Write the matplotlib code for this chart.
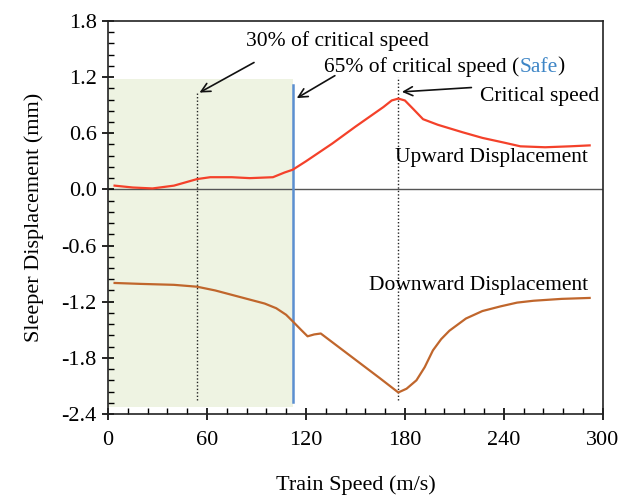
import matplotlib.pyplot as plt
from matplotlib.ticker import MultipleLocator

# upward displacement (red)
up_speed = [4, 15, 27, 40, 44, 50, 54, 62, 75, 86, 100, 107, 112, 120,
            136, 150, 167, 172, 176, 180, 185, 191, 200, 215, 227, 240,
            250, 265, 280, 292]
up_disp = [0.04, 0.02, 0.01, 0.04, 0.06, 0.09, 0.11, 0.13, 0.13, 0.12,
           0.13, 0.18, 0.21, 0.30, 0.49, 0.67, 0.88, 0.95, 0.97, 0.95,
           0.86, 0.75, 0.69, 0.61, 0.55, 0.50, 0.46, 0.45, 0.46, 0.47]

# downward displacement (brown)
down_speed = [4, 20, 40, 54, 65, 80, 95, 102, 108, 112, 117, 121, 125,
              129, 135, 150, 165, 176, 181, 187, 192, 197, 202, 207, 217,
              227, 238, 248, 258, 275, 292]
down_disp = [-1.00, -1.01, -1.02, -1.04, -1.08, -1.15, -1.22, -1.27,
             -1.34, -1.41, -1.50, -1.57, -1.55, -1.54, -1.62, -1.82,
             -2.02, -2.17, -2.13, -2.04, -1.90, -1.72, -1.60, -1.51,
             -1.38, -1.30, -1.25, -1.21, -1.19, -1.17, -1.16]

speed_30 = 54
speed_65 = 112
speed_crit = 176

plt.rcParams['font.family'] = ['Liberation Serif', 'DejaVu Serif']
plt.rcParams['font.size'] = 16

fig = plt.figure(figsize=(6.26, 4.98), dpi=100)
ax = fig.add_axes([0.1725, 0.1687, 0.7905, 0.7893])

# safe zone shading
ax.fill_between([0, speed_65], -2.33, 1.18, color='#eef3e2', lw=0, zorder=0)

ax.axhline(0, color='#555555', lw=1.0, zorder=1)

ax.plot([speed_30, speed_30], [-2.25, 1.05], color='#222222', lw=1.0,
        ls=(0, (1, 1.5)), zorder=2)
ax.plot([speed_crit, speed_crit], [-2.25, 1.20], color='#222222', lw=1.0,
        ls=(0, (1, 1.5)), zorder=2)
ax.plot([speed_65, speed_65], [-2.27, 1.12], color='#5b8fd0', lw=1.8, zorder=3)

ax.plot(up_speed, up_disp, color='#f4412a', lw=1.6, zorder=4)
ax.plot(down_speed, down_disp, color='#c0662c', lw=1.6, zorder=4)

fs = 15.5
arrow = dict(arrowstyle='->', color='#111111', lw=1.2)
ax.annotate('', xy=(speed_30, 1.02), xytext=(90, 1.37), arrowprops=arrow)
ax.text(139, 1.585, '30% of critical speed', ha='center', va='center',
        fontsize=fs)

ax.annotate('', xy=(speed_65 + 1, 0.96), xytext=(139, 1.23), arrowprops=arrow)
t1 = ax.text(131, 1.255, '65% of critical speed (', ha='left',
             va='baseline', fontsize=fs)
t2 = ax.annotate('Safe', xy=(1, 0), xycoords=t1, ha='left', va='bottom',
                 color='#3d85c6', fontsize=fs)
ax.annotate(')', xy=(1, 0), xycoords=t2, ha='left', va='bottom', fontsize=fs)

ax.annotate('', xy=(speed_crit + 0.5, 1.04), xytext=(222, 1.09), arrowprops=arrow)
ax.text(298, 0.99, 'Critical speed', ha='right', va='center', fontsize=fs)

ax.text(291, 0.34, 'Upward Displacement', ha='right', va='center',
        fontsize=fs)
ax.text(291, -1.03, 'Downward Displacement', ha='right', va='center',
        fontsize=fs)

ax.set_xlim(0, 300)
ax.set_ylim(-2.4, 1.8)
ax.xaxis.set_major_locator(MultipleLocator(60))
ax.xaxis.set_minor_locator(MultipleLocator(12))
ax.yaxis.set_minor_locator(MultipleLocator(0.12))
ax.set_yticks([1.8, 1.2, 0.6, 0.0, -0.6, -1.2, -1.8, -2.4])
ax.set_yticklabels(['1.8', '1.2', '0.6', '0.0', '-0.6', '-1.2', '-1.8', '-2.4'])

ax.tick_params(which='major', direction='inout', length=9, width=1.2)
ax.tick_params(which='minor', direction='in', length=4, width=1.0)
ax.tick_params(axis='x', pad=8)
for s in ax.spines.values():
    s.set_linewidth(1.2)
    s.set_color('#222222')

ax.set_xlabel('Train Speed (m/s)', labelpad=18)
ax.set_ylabel('Sleeper Displacement (mm)', labelpad=13)

fig.savefig('out.png', dpi=100)
